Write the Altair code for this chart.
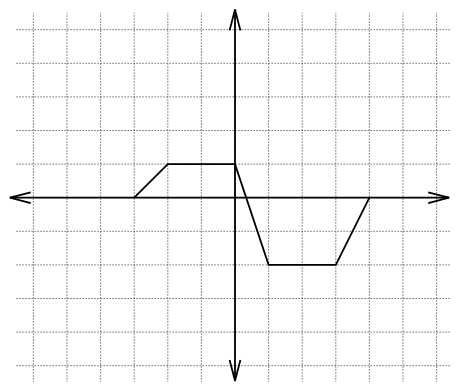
import altair as alt
import pandas as pd

# grid lines (integer units)
grid_x = list(range(-6, 7))
grid_y = list(range(-5, 6))
grid_x_extent = [-6.5, 6.5]
grid_y_extent = [-5.5, 5.5]

# the piecewise function
func_x = [-3, -2, 0, 1, 3, 4]
func_y = [0, 1, 1, -2, -2, 0]

# axis extents (arrow tips)
axis_x_extent = [-6.7, 6.37]
axis_y_extent = [-5.45, 5.6]
arrow_len = 0.62
arrow_half = 0.16

W, H = 442, 374
UNIT = 33.6
OX, OY = 227, 189.7
x_dom = [-OX / UNIT, (W - OX) / UNIT]
y_dom = [-(H - OY) / UNIT, OY / UNIT]

xs = alt.Scale(domain=x_dom, range=[0, W], nice=False, zero=False)
ys = alt.Scale(domain=y_dom, range=[H, 0], nice=False, zero=False)

vgrid = pd.DataFrame({"x": grid_x, "y": grid_y_extent[0], "y2": grid_y_extent[1]})
hgrid = pd.DataFrame({"y": grid_y, "x": grid_x_extent[0], "x2": grid_x_extent[1]})

x0, x1 = axis_x_extent
y0, y1 = axis_y_extent
segs = [
    (x0, 0, x1, 0),
    (0, y0, 0, y1),
    # left arrow
    (x0, 0, x0 + arrow_len, arrow_half),
    (x0, 0, x0 + arrow_len, -arrow_half),
    # right arrow
    (x1, 0, x1 - arrow_len, arrow_half),
    (x1, 0, x1 - arrow_len, -arrow_half),
    # bottom arrow
    (0, y0, arrow_half, y0 + arrow_len),
    (0, y0, -arrow_half, y0 + arrow_len),
    # top arrow
    (0, y1, arrow_half, y1 - arrow_len),
    (0, y1, -arrow_half, y1 - arrow_len),
]
axes_df = pd.DataFrame(segs, columns=["x", "y", "x2", "y2"])
func_df = pd.DataFrame({"x": func_x, "y": func_y})

X = lambda f: alt.X(f, type="quantitative", scale=xs, axis=None)
Y = lambda f: alt.Y(f, type="quantitative", scale=ys, axis=None)

dash = dict(color="#222", strokeWidth=1, strokeDash=[1, 2])

l_vgrid = alt.Chart(vgrid).mark_rule(**dash).encode(
    x=X("x"), y=Y("y"), y2="y2"
)
l_hgrid = alt.Chart(hgrid).mark_rule(**dash).encode(
    y=Y("y"), x=X("x"), x2="x2"
)
l_axes = alt.Chart(axes_df).mark_rule(color="black", strokeWidth=1.8).encode(
    x=X("x"), y=Y("y"), x2="x2", y2="y2"
)
l_func = alt.Chart(func_df).mark_line(color="black", strokeWidth=1.8).encode(
    x=X("x"), y=Y("y"), order="x:Q"
)

chart = alt.layer(l_vgrid, l_hgrid, l_axes, l_func).properties(
    width=W, height=H, padding=0, autosize=alt.AutoSizeParams(type="none")
).configure_view(stroke=None)

chart.save("out.html", embed_options={"renderer": "svg", "actions": False})
